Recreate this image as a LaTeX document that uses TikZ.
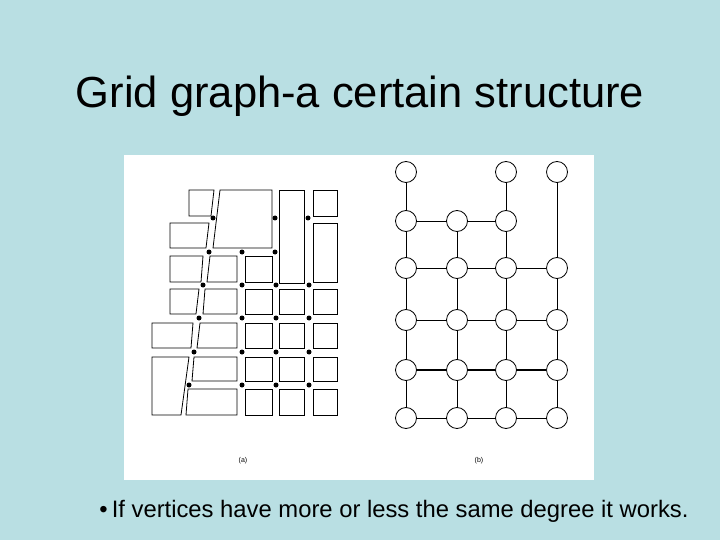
\documentclass[tikz,border=0pt]{standalone}
\usepackage{fontspec}
\setmainfont{Liberation Sans}
\begin{document}
\begin{tikzpicture}[x=1pt,y=-1pt,
  blk/.style={draw=black,line width=0.8pt,fill=white},
  dot/.style={circle,fill=black,inner sep=0pt,minimum size=5pt},
  vtx/.style={circle,draw=black,line width=0.8pt,fill=white,inner sep=0pt,minimum size=21pt},
  edge/.style={line width=0.8pt}]
\useasboundingbox (0,0) rectangle (720,540);
\fill[fill={rgb,255:red,185;green,223;blue,227}] (0,0) rectangle (720,540);
\fill[white] (124,155) rectangle (594,480);
\node[font=\fontsize{43.5}{48}\selectfont] (title) at (360,96) {Grid graph-a certain structure};
\node[font=\fontsize{23.8}{28}\selectfont] (bul) at (394,511) {\textbullet\,If vertices have more or less the same degree it works.};
% (a) blocks: xl_top, xl_bot, xr_top, xr_bot, yt, yb
\foreach \a/\b/\c/\d/\t/\u in {
 189/189/214/211/190/216, 220/213/272/272/190/248, 279/279/304/304/190/283, 313/313/337/337/190/216,
 170/170/209/206/223/248, 313/313/337/337/223/282,
 170/170/203/201/256/282, 210/207/237/237/256/282, 245/245/272/272/256/282,
 170/170/199/196/289/314, 205/203/237/237/289/314, 245/245/272/272/289/314, 279/279/304/304/289/314, 313/313/337/337/289/314,
 152/152/193/191/323/348, 200/197/237/237/323/348, 245/245/272/272/323/348, 279/279/304/304/323/348, 313/313/337/337/323/348,
 152/152/189/181/357/415, 194/192/237/237/357/381, 245/245/272/272/357/381, 279/279/304/304/357/381, 313/313/337/337/357/381,
 188/186/237/237/389/415, 245/245/272/272/389/415, 279/279/304/304/389/415, 313/313/337/337/389/415}
 \draw[blk] (\a,\t) -- (\c,\t) -- (\d,\u) -- (\b,\u) -- cycle;
\foreach \x/\y [count=\i] in {213/218, 275/218, 308/218,
 209/252, 242/252, 275/252,
 203/285, 242/285, 276/285, 309/285,
 199/318, 242/318, 276/318, 309/318,
 194/352, 242/352, 276/352, 309/352,
 189/385, 242/385, 276/385, 309/385}
 \node[dot] (d\i) at (\x,\y) {};
\node[font=\scriptsize] (la) at (243,461) {(a)};
% (b)
\foreach \c/\x in {1/406,2/457,3/506,4/557}
 \foreach \r/\y in {1/172,2/221,3/268,4/320,5/370,6/418}
  \coordinate (p\c\r) at (\x,\y);
\foreach \c/\r in {1/1,3/1,4/1, 1/2,2/2,3/2, 1/3,2/3,3/3,4/3, 1/4,2/4,3/4,4/4, 1/5,2/5,3/5,4/5, 1/6,2/6,3/6,4/6}
 \node[vtx] (v\c\r) at (p\c\r) {};
\draw[edge] (v11)--(v12)--(v13)--(v14)--(v15)--(v16);
\draw[edge] (v22)--(v23)--(v24)--(v25)--(v26);
\draw[edge] (v31)--(v32)--(v33)--(v34)--(v35)--(v36);
\draw[edge] (v41)--(v43)--(v44)--(v45)--(v46);
\draw[edge] (v12)--(v22)--(v32);
\draw[edge] (v13)--(v23)--(v33)--(v43);
\draw[edge] (v14)--(v24)--(v34)--(v44);
\draw[line width=1.4pt] (v15)--(v25)--(v35)--(v45);
\draw[edge] (v16)--(v26)--(v36)--(v46);
\node[font=\scriptsize] (lb) at (479,461) {(b)};
\end{tikzpicture}
\end{document}
